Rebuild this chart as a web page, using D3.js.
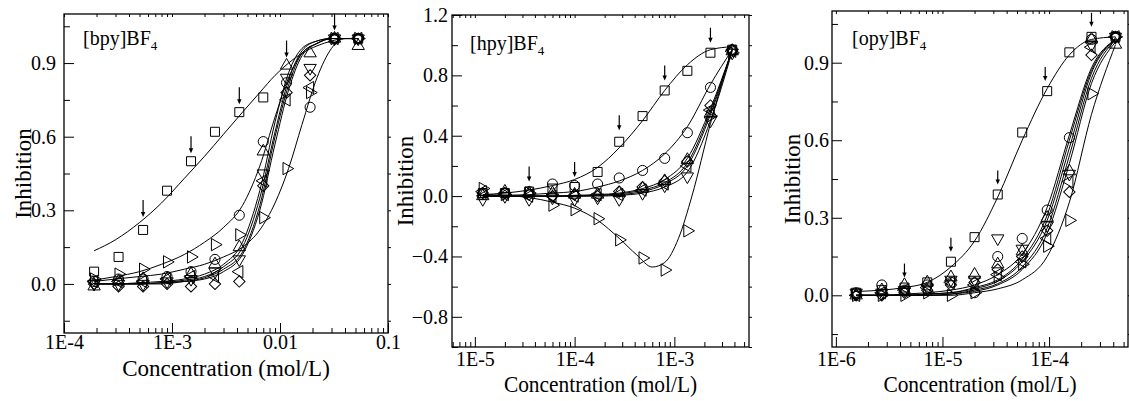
<!DOCTYPE html>
<html>
<head>
<meta charset="utf-8">
<script src="https://cdn.jsdelivr.net/npm/d3@7"></script>
<style>
  body { margin: 0; background: #fff; }
  svg { display: block; }
  text { font-family: "Liberation Serif", "Times New Roman", serif; fill: #000; }
</style>
</head>
<body>
<svg id="chart" width="1129" height="401"></svg>
<script>
// ---------- [bpy]BF4 ----------
const conc1 = [1.9e-4, 3.2e-4, 5.4e-4, 9e-4, 1.5e-3, 2.5e-3, 4.2e-3, 7e-3, 1.15e-2, 1.9e-2, 3.2e-2, 5.3e-2];
const sq1 = [0.05, 0.11, 0.22, 0.38, 0.50, 0.62, 0.70, 0.76, null, null, 1.0, 1.0];
const ci1 = [0.01, 0.02, 0.02, 0.03, 0.05, 0.10, 0.28, 0.58, 0.82, 0.72, 1.0, 1.0];
const up1 = [-0.01, 0.01, 0.02, 0.02, 0.04, 0.08, 0.15, 0.54, 0.89, 0.94, 1.0, 0.97];
const dn1 = [0.0, 0.0, 0.0, 0.01, 0.02, 0.05, 0.10, 0.45, 0.84, 0.88, 1.0, 1.0];
const di1 = [0.0, -0.01, -0.01, 0.0, -0.01, 0.0, 0.01, 0.40, 0.78, 0.85, 1.0, 1.0];
const le1 = [0.01, 0.01, 0.01, 0.02, 0.03, 0.03, 0.05, 0.42, 0.75, 0.80, 1.0, 1.0];
const ri1 = [0.02, 0.04, 0.06, 0.09, 0.11, 0.16, 0.20, 0.27, 0.47, 0.78, 1.0, 1.0];

const fitX1 = [1.9e-4, 3e-4, 5e-4, 8e-4, 1.3e-3, 2e-3, 3e-3, 4.5e-3, 6.5e-3, 9e-3, 0.012, 0.016, 0.022, 0.03, 0.04, 0.053];
const fitSq1 = [0.135, 0.18, 0.25, 0.33, 0.43, 0.52, 0.61, 0.70, 0.78, 0.85, 0.90, 0.94, 0.97, 0.99, 1.0, 1.0];
const fitCi1 = [0.015, 0.03, 0.05, 0.08, 0.12, 0.17, 0.23, 0.32, 0.48, 0.68, 0.84, 0.94, 0.98, 1.0, 1.0, 1.0];
const fitUp1 = [0.0, 0.0, 0.005, 0.01, 0.02, 0.04, 0.08, 0.17, 0.38, 0.66, 0.86, 0.96, 0.99, 1.0, 1.0, 1.0];
const fitDn1 = [0.0, 0.0, 0.0, 0.005, 0.015, 0.03, 0.07, 0.15, 0.35, 0.62, 0.83, 0.95, 0.99, 1.0, 1.0, 1.0];
const fitDi1 = [0.0, 0.0, 0.0, 0.0, 0.01, 0.02, 0.05, 0.12, 0.30, 0.57, 0.79, 0.93, 0.98, 1.0, 1.0, 1.0];
const fitLe1 = [0.0, 0.0, 0.0, 0.005, 0.01, 0.025, 0.06, 0.13, 0.32, 0.60, 0.81, 0.94, 0.98, 1.0, 1.0, 1.0];
const fitRi1 = [0.01, 0.02, 0.03, 0.04, 0.06, 0.08, 0.11, 0.15, 0.22, 0.33, 0.47, 0.65, 0.84, 0.96, 1.0, 1.0];

const arrows1 = [[5.4e-4, 0.24], [1.5e-3, 0.50], [4.2e-3, 0.70], [1.15e-2, 0.89], [3.2e-2, 1.0]];

// ---------- [hpy]BF4 ----------
const conc2 = [1.2e-5, 2e-5, 3.5e-5, 6e-5, 1e-4, 1.7e-4, 2.8e-4, 4.8e-4, 8e-4, 1.35e-3, 2.3e-3, 3.8e-3];
const sq2 = [0.02, 0.02, 0.03, 0.05, 0.06, 0.16, 0.36, 0.53, 0.70, 0.83, 0.95, 0.97];
const ci2 = [0.01, 0.02, 0.03, 0.08, 0.07, 0.08, 0.12, 0.17, 0.25, 0.42, 0.72, 0.97];
const up2 = [0.0, 0.03, 0.02, 0.02, 0.01, 0.01, 0.02, 0.05, 0.10, 0.24, 0.55, 0.96];
const dn2 = [-0.02, 0.0, -0.02, -0.01, -0.02, -0.01, -0.02, 0.02, 0.07, 0.13, 0.50, 0.95];
const di2 = [0.02, 0.02, 0.01, 0.0, 0.01, 0.0, 0.03, 0.06, 0.10, 0.23, 0.60, 0.97];
const le2 = [0.03, 0.01, 0.0, 0.0, 0.0, 0.01, 0.01, 0.04, 0.08, 0.20, 0.57, 0.96];
const ri2 = [0.05, 0.01, 0.02, -0.06, -0.09, -0.15, -0.29, -0.41, -0.49, -0.23, 0.53, 0.95];

const fitX2 = conc2;
const fitSq2 = [0.01, 0.02, 0.04, 0.07, 0.11, 0.19, 0.32, 0.50, 0.70, 0.87, 0.97, 0.99];
const fitCi2 = [0.0, 0.005, 0.01, 0.02, 0.03, 0.06, 0.10, 0.17, 0.28, 0.46, 0.74, 0.97];
const fitUp2 = [0.0, 0.0, 0.0, 0.0, 0.005, 0.01, 0.02, 0.05, 0.11, 0.25, 0.58, 0.97];
const fitDn2 = [0.0, 0.0, 0.0, 0.0, 0.0, 0.0, 0.005, 0.02, 0.06, 0.16, 0.50, 0.96];
const fitDi2 = [0.0, 0.0, 0.0, 0.0, 0.0, 0.005, 0.015, 0.04, 0.09, 0.22, 0.56, 0.97];
const fitLe2 = [0.0, 0.0, 0.0, 0.0, 0.0, 0.005, 0.01, 0.03, 0.08, 0.20, 0.54, 0.97];
const fitRiX2 = [1.2e-5, 2e-5, 3.5e-5, 6e-5, 1e-4, 1.7e-4, 2.8e-4, 4.2e-4, 6e-4, 8e-4, 1.1e-3, 1.5e-3, 2.3e-3, 3.8e-3];
const fitRi2 = [0.01, 0.005, -0.01, -0.04, -0.08, -0.16, -0.28, -0.39, -0.47, -0.44, -0.28, 0.0, 0.48, 0.98];

const arrows2 = [[3.5e-5, 0.03], [1e-4, 0.06], [2.8e-4, 0.37], [8e-4, 0.70], [2.3e-3, 0.95]];

// ---------- [opy]BF4 ----------
const conc3 = [1.55e-6, 2.7e-6, 4.4e-6, 7.2e-6, 1.2e-5, 2e-5, 3.3e-5, 5.6e-5, 9.6e-5, 1.55e-4, 2.5e-4, 4.2e-4];
const sq3 = [0.01, 0.02, 0.03, 0.05, 0.13, 0.225, 0.39, 0.63, 0.79, 0.94, 1.0, 1.0];
const ci3 = [0.01, 0.04, 0.02, 0.04, 0.05, 0.01, 0.15, 0.22, 0.33, 0.61, 0.99, 1.0];
const up3 = [0.0, 0.02, 0.04, 0.05, 0.07, 0.08, 0.12, 0.17, 0.30, 0.48, 0.99, 0.97];
const dn3 = [0.01, 0.01, 0.02, 0.03, 0.06, 0.06, 0.22, 0.18, 0.27, 0.47, 0.97, 1.0];
const di3 = [0.0, 0.0, 0.01, 0.02, 0.04, 0.05, 0.10, 0.15, 0.25, 0.40, 0.93, 1.0];
const le3 = [0.0, 0.01, 0.02, 0.03, 0.05, 0.04, 0.08, 0.13, 0.22, 0.44, 0.96, 1.0];
const ri3 = [0.0, 0.0, 0.0, 0.01, 0.0, 0.01, 0.07, 0.12, 0.19, 0.29, 0.78, 1.0];

const fitX3 = conc3;
const fitSq3 = [0.015, 0.02, 0.03, 0.05, 0.11, 0.21, 0.38, 0.60, 0.80, 0.93, 0.99, 1.0];
const fitCi3 = [0.0, 0.0, 0.005, 0.01, 0.02, 0.04, 0.08, 0.16, 0.34, 0.62, 0.88, 0.99];
const fitUp3 = [0.0, 0.0, 0.0, 0.005, 0.01, 0.03, 0.06, 0.14, 0.31, 0.60, 0.87, 0.99];
const fitDn3 = [0.0, 0.0, 0.0, 0.005, 0.01, 0.025, 0.055, 0.13, 0.29, 0.57, 0.86, 0.99];
const fitDi3 = [0.0, 0.0, 0.0, 0.0, 0.005, 0.02, 0.045, 0.11, 0.26, 0.54, 0.84, 0.99];
const fitLe3 = [0.0, 0.0, 0.0, 0.0, 0.005, 0.015, 0.04, 0.10, 0.24, 0.51, 0.82, 0.98];
const fitRi3 = [0.0, 0.0, 0.0, 0.0, 0.0, 0.01, 0.025, 0.06, 0.15, 0.36, 0.70, 0.97];

const arrows3 = [[4.4e-6, 0.03], [1.2e-5, 0.13], [3.3e-5, 0.39], [9.2e-5, 0.79], [2.5e-4, 1.0]];

// axis ticks / labels
const xTicks1 = [1e-4, 1e-3, 1e-2, 1e-1];
const xLabels1 = ['1E-4', '1E-3', '0.01', '0.1'];
const yTicks1 = [0.0, 0.3, 0.6, 0.9];
const yMinor1 = [-0.15, 0.15, 0.45, 0.75, 1.05];

const xTicks2 = [1e-5, 1e-4, 1e-3];
const xLabels2 = ['1E-5', '1E-4', '1E-3'];
const yTicks2 = [-0.8, -0.4, 0.0, 0.4, 0.8, 1.2];
const yMinor2 = [-1.0, -0.6, -0.2, 0.2, 0.6, 1.0];

const xTicks3 = [1e-6, 1e-5, 1e-4];
const xLabels3 = ['1E-6', '1E-5', '1E-4'];
const yTicks3 = yTicks1;
const yMinor3 = yMinor1;

const shapes = ['square', 'circle', 'up', 'down', 'diamond', 'left', 'right'];

const panels = [
  {
    name: 'bpy', left: 64, top: 14, right: 388, bottom: 333,
    xDomain: [1e-4, 0.1], yDomain: [-0.2, 1.1],
    xTicks: xTicks1, xLabels: xLabels1, yTicks: yTicks1, yMinor: yMinor1,
    conc: conc1, values: [sq1, ci1, up1, dn1, di1, le1, ri1],
    fits: [[fitX1, fitSq1], [fitX1, fitCi1], [fitX1, fitUp1], [fitX1, fitDn1], [fitX1, fitDi1], [fitX1, fitLe1], [fitX1, fitRi1]],
    arrows: arrows1, arrowLen: 17, arrowGap: 8,
    xPad: 2, yPad: 8, xTitleY: 376, yTitleX: 31, squeeze: 1,
    titleX: 83, titleY: 45
  },
  {
    name: 'hpy', left: 452, top: 15, right: 749, bottom: 347,
    xDomain: [5.9e-6, 5.6e-3], yDomain: [-1.0, 1.2],
    xTicks: xTicks2, xLabels: xLabels2, yTicks: yTicks2, yMinor: yMinor2,
    conc: conc2, values: [sq2, ci2, up2, dn2, di2, le2, ri2],
    fits: [[fitX2, fitSq2], [fitX2, fitCi2], [fitX2, fitUp2], [fitX2, fitDn2], [fitX2, fitDi2], [fitX2, fitLe2], [fitRiX2, fitRi2]],
    arrows: arrows2, arrowLen: 15, arrowGap: 10,
    xPad: 5, yPad: 4, xTitleY: 392, yTitleX: 413, squeeze: 0.92,
    titleX: 470, titleY: 50
  },
  {
    name: 'opy', left: 832, top: 11, right: 1128, bottom: 347,
    xDomain: [9.2e-7, 5.5e-4], yDomain: [-0.2, 1.1],
    xTicks: xTicks3, xLabels: xLabels3, yTicks: yTicks3, yMinor: yMinor3,
    conc: conc3, values: [sq3, ci3, up3, dn3, di3, le3, ri3],
    fits: [[fitX3, fitSq3], [fitX3, fitCi3], [fitX3, fitUp3], [fitX3, fitDn3], [fitX3, fitDi3], [fitX3, fitLe3], [fitX3, fitRi3]],
    arrows: arrows3, arrowLen: 14, arrowGap: 10,
    xPad: 5, yPad: 3, xTitleY: 392, yTitleX: 800, squeeze: 0.92,
    titleX: 852, titleY: 45
  }
];

const svg = d3.select('#chart');
svg.append('rect').attr('width', 1129).attr('height', 401).attr('fill', '#fff');

function markerPath(shape) {
  if (shape === 'circle') return d3.symbol().type(d3.symbolCircle).size(80)();
  if (shape === 'square') return d3.symbol().type(d3.symbolSquare).size(81)();
  if (shape === 'diamond') return d3.symbol().type(d3.symbolSquare).size(64)();
  return d3.symbol().type(d3.symbolTriangle).size(66)();
}
const rotation = { square: 0, circle: 0, diamond: 45, up: 0, down: 180, left: -90, right: 90 };

function minorLogTicks(domain) {
  const out = [];
  const lo = Math.floor(Math.log10(domain[0])), hi = Math.ceil(Math.log10(domain[1]));
  for (let e = lo; e < hi; e++) {
    for (let k = 2; k <= 9; k++) {
      const v = k * Math.pow(10, e);
      if (v >= domain[0] && v <= domain[1]) out.push(v);
    }
  }
  return out;
}

panels.forEach((p, pi) => {
  const g = svg.append('g');
  const x = d3.scaleLog().domain(p.xDomain).range([p.left, p.right]);
  const y = d3.scaleLinear().domain(p.yDomain).range([p.bottom, p.top]);

  const clipId = 'clip' + pi;
  g.append('clipPath').attr('id', clipId)
    .append('rect').attr('x', p.left).attr('y', p.top)
    .attr('width', p.right - p.left).attr('height', p.bottom - p.top);

  // fitted curves
  const line = d3.line()
    .x(d => x(d[0]))
    .y(d => y(d[1]))
    .curve(d3.curveMonotoneX);
  g.append('g').attr('clip-path', `url(#${clipId})`)
    .selectAll('path')
    .data(p.fits.map(f => f[0].map((c, i) => [c, f[1][i]])))
    .join('path')
    .attr('d', line)
    .attr('fill', 'none')
    .attr('stroke', '#000')
    .attr('stroke-width', 1);

  // markers
  shapes.forEach((shape, si) => {
    const pts = p.conc.map((c, i) => [c, p.values[si][i]]).filter(d => d[1] !== null);
    g.append('g').selectAll('path')
      .data(pts)
      .join('path')
      .attr('d', markerPath(shape))
      .attr('transform', d => `translate(${x(d[0])},${y(d[1])}) rotate(${rotation[shape]})`)
      .attr('fill', 'none')
      .attr('stroke', '#000')
      .attr('stroke-width', 1);
  });

  // arrows
  const ag = g.append('g');
  p.arrows.forEach(a => {
    const ax = x(a[0]);
    const tip = y(a[1]) - p.arrowGap;
    ag.append('line')
      .attr('x1', ax).attr('x2', ax)
      .attr('y1', tip - p.arrowLen).attr('y2', tip - 3)
      .attr('stroke', '#000').attr('stroke-width', 1.2);
    ag.append('path')
      .attr('d', `M${ax - 2.2},${tip - 5}L${ax + 2.2},${tip - 5}L${ax},${tip}Z`)
      .attr('fill', '#000');
  });

  // frame
  g.append('rect')
    .attr('x', p.left).attr('y', p.top)
    .attr('width', p.right - p.left).attr('height', p.bottom - p.top)
    .attr('fill', 'none').attr('stroke', '#000').attr('stroke-width', 1.3);

  // bottom axis (inward ticks)
  const xMinor = minorLogTicks(p.xDomain);
  const xAxis = g.append('g').attr('transform', `translate(0,${p.bottom})`)
    .call(d3.axisBottom(x).tickValues(p.xTicks).tickSize(-10).tickPadding(p.xPad)
      .tickFormat((d, i) => p.xLabels[i]));
  g.append('g').attr('transform', `translate(0,${p.bottom})`)
    .call(d3.axisBottom(x).tickValues(xMinor).tickSize(-5).tickFormat(''));
  // top axis mirror ticks
  g.append('g').attr('transform', `translate(0,${p.top})`)
    .call(d3.axisTop(x).tickValues(p.xTicks.concat(xMinor)).tickSize(-3).tickFormat(''));

  // left axis (inward ticks)
  const fmt = d3.format('.1f');
  const yAxis = g.append('g').attr('transform', `translate(${p.left},0)`)
    .call(d3.axisLeft(y).tickValues(p.yTicks).tickSize(-10).tickPadding(p.yPad).tickFormat(fmt));
  g.append('g').attr('transform', `translate(${p.left},0)`)
    .call(d3.axisLeft(y).tickValues(p.yMinor).tickSize(-6).tickFormat(''));
  // right axis mirror ticks
  g.append('g').attr('transform', `translate(${p.right},0)`)
    .call(d3.axisRight(y).tickValues(p.yTicks.concat(p.yMinor)).tickSize(3).tickFormat(''));

  g.selectAll('.domain').remove();
  g.selectAll('.tick line').attr('stroke', '#000').attr('stroke-width', 1);
  xAxis.selectAll('text').attr('font-size', 20).attr('font-family', '"Liberation Serif", serif').attr('fill', '#000');
  yAxis.selectAll('text').attr('font-size', 20).attr('font-family', '"Liberation Serif", serif').attr('fill', '#000');

  // axis titles
  const cx = (p.left + p.right) / 2;
  const xt = g.append('text')
    .attr('x', cx).attr('y', p.xTitleY)
    .attr('text-anchor', 'middle')
    .attr('font-size', 23)
    .text('Concentration (mol/L)');
  if (p.squeeze !== 1) xt.attr('textLength', 210 * p.squeeze).attr('lengthAdjust', 'spacingAndGlyphs');

  const cy = (p.top + p.bottom) / 2;
  g.append('text')
    .attr('transform', `translate(${p.yTitleX},${cy}) rotate(-90)`)
    .attr('text-anchor', 'middle')
    .attr('font-size', 23)
    .text('Inhibition');

  // panel label
  const t = g.append('text')
    .attr('x', p.titleX).attr('y', p.titleY)
    .attr('font-size', 20);
  t.append('tspan').text(`[${p.name}]BF`);
  t.append('tspan').attr('font-size', 13).attr('dy', 5).text('4');
});
</script>
</body>
</html>
